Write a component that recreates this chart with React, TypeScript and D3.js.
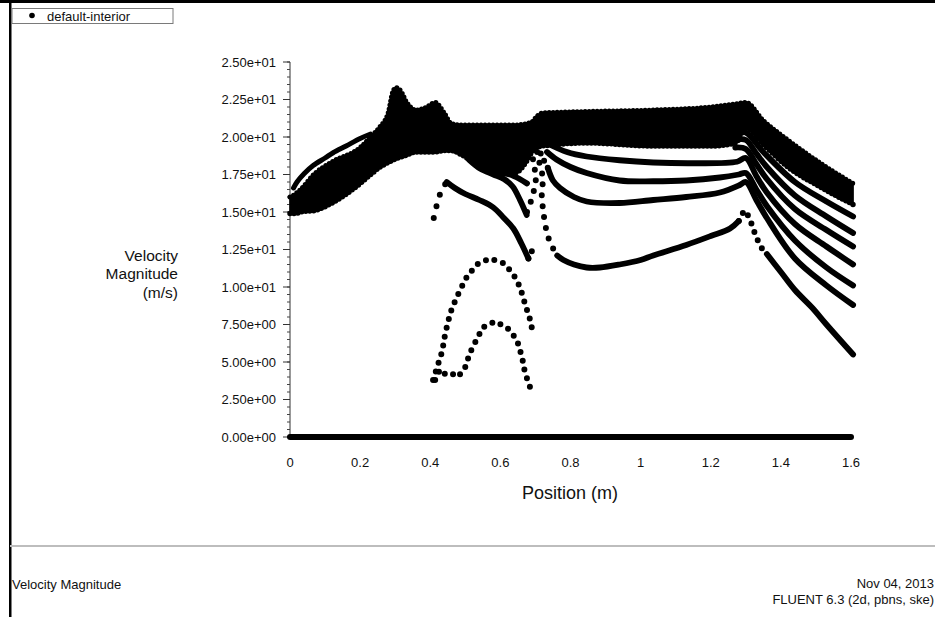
import React from 'react';
import * as d3 from 'd3';

type Pt = [number, number];

// ---- axis ticks ----
const yTickValues = [0, 2.5, 5, 7.5, 10, 12.5, 15, 17.5, 20, 22.5, 25];
const yTickLabels = ['0.00e+00', '2.50e+00', '5.00e+00', '7.50e+00', '1.00e+01', '1.25e+01', '1.50e+01', '1.75e+01', '2.00e+01', '2.25e+01', '2.50e+01'];
const xTickValues = [0, 0.2, 0.4, 0.6, 0.8, 1.0, 1.2, 1.4, 1.6];
const xTickLabels = ['0', '0.2', '0.4', '0.6', '0.8', '1', '1.2', '1.4', '1.6'];

// ---- dense band of points (upper / lower envelope) ----
const bandPos = [0, 0.015, 0.03, 0.07, 0.12, 0.2, 0.23, 0.257, 0.28, 0.293, 0.302, 0.315, 0.333, 0.36, 0.39, 0.414, 0.44, 0.46, 0.49, 0.54, 0.6, 0.64, 0.675, 0.69, 0.705, 0.72, 0.85, 1.036, 1.2, 1.27, 1.3, 1.35, 1.42, 1.51, 1.606];
const bandTop = [16.0, 16.2, 16.5, 17.55, 18.35, 19.3, 20.0, 20.7, 21.6, 23.0, 23.3, 23.1, 22.3, 21.8, 22.0, 22.3, 21.6, 20.9, 20.8, 20.8, 20.8, 20.8, 20.9, 21.0, 21.4, 21.6, 21.7, 21.8, 22.0, 22.2, 22.3, 21.1, 19.8, 18.3, 16.9];
const bandBottom = [14.9, 14.9, 15.0, 15.1, 15.6, 16.9, 17.5, 18.0, 18.3, 18.45, 18.55, 18.65, 18.8, 19.0, 19.0, 19.0, 19.1, 19.1, 18.8, 18.1, 17.7, 17.6, 18.4, 19.0, 19.3, 19.4, 19.6, 19.4, 19.4, 19.6, 20.6, 19.5, 18.0, 16.7, 15.5];

// ---- individual point chains (position m, velocity m/s) ----
const armUpper: Pt[] = [[0.01, 16.6], [0.02, 17.0], [0.04, 17.55], [0.066, 18.1], [0.1, 18.6], [0.123, 18.95], [0.16, 19.4], [0.2, 19.9], [0.23, 20.2]];

const curveAStart: Pt[] = [[0.41, 14.6], [0.42, 15.6], [0.432, 16.5], [0.447, 17.0]];
const curveA: Pt[] = [[0.447, 17.0], [0.47, 16.6], [0.5, 16.2], [0.54, 15.8], [0.58, 15.3], [0.61, 14.6], [0.637, 13.9], [0.66, 12.9], [0.68, 11.9]];
const curveAEnd: Pt[] = [[0.68, 11.9], [0.69, 12.4]];
const curveB: Pt[] = [[0.51, 18.5], [0.542, 17.9], [0.58, 17.5], [0.61, 17.2], [0.635, 16.7], [0.656, 15.8], [0.675, 14.8]];
const curveBRise: Pt[] = [[0.676, 15.0], [0.693, 16.1], [0.704, 17.5], [0.693, 18.1], [0.693, 18.9]];
const curveC: Pt[] = [[0.6, 17.6], [0.627, 17.5], [0.655, 17.2], [0.676, 16.9]];

const line1: Pt[] = [[0.74, 19.5], [0.79, 19.0], [0.846, 18.7], [0.94, 18.45], [1.036, 18.3], [1.15, 18.25], [1.275, 18.35], [1.3, 18.6], [1.33, 17.4], [1.36, 16.3], [1.44, 14.2], [1.53, 12.7], [1.606, 11.5]];
const line2: Pt[] = [[0.733, 19.0], [0.76, 18.5], [0.8, 18.0], [0.846, 17.6], [0.94, 17.1], [1.036, 17.05], [1.13, 17.1], [1.226, 17.3], [1.28, 17.5], [1.3, 17.6], [1.33, 16.5], [1.36, 15.4], [1.44, 13.1], [1.53, 11.3], [1.606, 10.1]];
const line3Start: Pt[] = [[0.715, 18.9], [0.725, 18.4], [0.736, 17.9]];
const line3: Pt[] = [[0.736, 17.9], [0.75, 17.1], [0.77, 16.6], [0.81, 16.0], [0.846, 15.7], [0.94, 15.6], [1.036, 15.8], [1.13, 16.0], [1.226, 16.3], [1.283, 16.8], [1.3, 17.0], [1.33, 15.8], [1.36, 14.6], [1.44, 11.9], [1.53, 10.1], [1.606, 8.8]];
const line4Start: Pt[] = [[0.705, 19.0], [0.713, 18.1], [0.722, 17.3], [0.718, 16.1], [0.722, 15.0], [0.733, 13.5], [0.747, 12.7], [0.762, 12.1]];
const line4: Pt[] = [[0.762, 12.1], [0.78, 11.8], [0.81, 11.5], [0.846, 11.3], [0.884, 11.3], [0.94, 11.5], [1.0, 11.8], [1.036, 12.1], [1.13, 12.8], [1.2, 13.4], [1.255, 13.9], [1.28, 14.4]];
const line4Peak: Pt[] = [[1.28, 14.4], [1.29, 14.9], [1.3, 15.1], [1.315, 14.3], [1.33, 13.3], [1.345, 12.6], [1.36, 12.2]];
const line4Tail: Pt[] = [[1.36, 12.2], [1.4, 11.0], [1.44, 9.8], [1.49, 8.6], [1.53, 7.5], [1.606, 5.5]];
const line5: Pt[] = [[1.27, 19.3], [1.3, 19.2], [1.33, 18.2], [1.36, 17.2], [1.44, 15.2], [1.53, 13.8], [1.606, 12.7]];
const line6: Pt[] = [[1.27, 19.8], [1.3, 19.8], [1.33, 18.9], [1.36, 18.0], [1.44, 16.1], [1.53, 14.7], [1.606, 13.6]];
const line7: Pt[] = [[1.27, 20.3], [1.3, 20.3], [1.35, 19.0], [1.44, 17.0], [1.53, 15.7], [1.606, 14.7]];

const arch1: Pt[] = [[0.408, 3.8], [0.419, 4.6], [0.434, 5.7], [0.442, 6.8], [0.451, 7.7], [0.462, 8.6], [0.485, 9.8], [0.505, 10.7], [0.533, 11.5], [0.57, 11.9], [0.608, 11.6], [0.636, 10.9], [0.656, 10.0], [0.67, 8.9], [0.685, 7.8], [0.693, 6.9]];
const arch2: Pt[] = [[0.414, 3.8], [0.428, 4.5], [0.442, 4.2], [0.456, 4.3], [0.479, 4.0], [0.499, 4.6], [0.513, 5.6], [0.528, 6.3], [0.55, 7.3], [0.585, 7.7], [0.619, 7.3], [0.647, 6.5], [0.662, 5.3], [0.67, 4.3], [0.685, 3.3], [0.693, 3.1]];

const zeroPos = [0, 1.6];
const zeroVel = [0, 0];

const solidSeries = [curveA, curveB, curveC, line1, line2, line3, line4, line4Tail, line5, line6, line7];
const dottedSeries: { pts: Pt[]; gap: number }[] = [
  { pts: curveAStart, gap: 12 },
  { pts: curveAEnd, gap: 8 },
  { pts: curveBRise, gap: 11 },
  { pts: line3Start, gap: 8 },
  { pts: line4Start, gap: 11 },
  { pts: line4Peak, gap: 9 },
  { pts: arch1, gap: 9 },
  { pts: arch2, gap: 9 },
];

const FONT = "'Liberation Sans', Arial, sans-serif";

export default function App() {
  const x = d3.scaleLinear().domain([0, 1.6]).range([290, 851]);
  const y = d3.scaleLinear().domain([0, 25]).range([437, 62]);

  const smooth = d3.line<Pt>().x(d => x(d[0])).y(d => y(d[1])).curve(d3.curveCatmullRom.alpha(0.5));
  const straight = d3.line<Pt>().x(d => x(d[0])).y(d => y(d[1]));
  const band = d3.area<number>()
    .x((_, i) => x(bandPos[i]))
    .y0((_, i) => y(bandBottom[i]))
    .y1((_, i) => y(bandTop[i]))
    .curve(d3.curveMonotoneX);
  const edge = (vals: number[]) =>
    d3.line<number>().x((_, i) => x(bandPos[i])).y((_, i) => y(vals[i])).curve(d3.curveMonotoneX)(vals) || '';
  const zeroData: Pt[] = zeroPos.map((p, i) => [p, zeroVel[i]]);

  const minorTicks = d3.range(0, 25.001, 0.5);

  return (
    <svg width={935} height={617} style={{ position: 'absolute', left: 0, top: 0, background: '#fff' }} fontFamily={FONT}>
      <rect x={0} y={0} width={935} height={617} fill="#fff" />
      {/* frame */}
      <rect x={0} y={0} width={935} height={3} fill="#000" />
      <rect x={9} y={0} width={2.5} height={617} fill="#000" />
      <rect x={10} y={545} width={925} height={2} fill="#bdbdbd" />

      {/* legend */}
      <rect x={12} y={8.5} width={161} height={15} fill="#fff" stroke="#7a7a7a" strokeWidth={1} />
      <circle cx={32} cy={15.5} r={2.8} fill="#000" />
      <text x={47} y={20.5} fontSize={13} fill="#111">default-interior</text>

      {/* y axis */}
      <line x1={290} x2={290} y1={y(25)} y2={y(0)} stroke="#333" strokeWidth={1} />
      {minorTicks.map((t, i) => (
        <line key={'m' + i} x1={290} x2={287} y1={y(t)} y2={y(t)} stroke="#444" strokeWidth={1} />
      ))}
      {yTickValues.map((t, i) => (
        <g key={'y' + i}>
          <line x1={290} x2={283} y1={y(t)} y2={y(t)} stroke="#333" strokeWidth={1} />
          <text x={276} y={y(t) + 4.5} fontSize={13} textAnchor="end" fill="#111">{yTickLabels[i]}</text>
        </g>
      ))}
      {xTickValues.map((t, i) => (
        <text key={'x' + i} x={x(t)} y={467} fontSize={13} textAnchor="middle" fill="#111">{xTickLabels[i]}</text>
      ))}

      {/* axis titles */}
      <text x={178} y={261} fontSize={15.5} textAnchor="end" fill="#111">Velocity</text>
      <text x={178} y={279} fontSize={15.5} textAnchor="end" fill="#111">Magnitude</text>
      <text x={178} y={298} fontSize={15.5} textAnchor="end" fill="#111">(m/s)</text>
      <text x={570} y={499} fontSize={18} textAnchor="middle" fill="#111">Position (m)</text>

      {/* data */}
      <path d={band(bandPos) || ''} fill="#000" stroke="#000" strokeWidth={1.5} strokeLinejoin="round" />
      <path d={edge(bandTop)} fill="none" stroke="#000" strokeWidth={5} strokeLinecap="round" strokeDasharray="0 4" />
      <path d={edge(bandBottom)} fill="none" stroke="#000" strokeWidth={5.5} strokeLinecap="round" strokeDasharray="0 4" />
      <path d={smooth(armUpper) || ''} fill="none" stroke="#000" strokeWidth={5} strokeLinecap="round" strokeLinejoin="round" />
      {solidSeries.map((s, i) => (
        <path key={'s' + i} d={smooth(s) || ''} fill="none" stroke="#000" strokeWidth={5.8} strokeLinecap="round" strokeLinejoin="round" />
      ))}
      {dottedSeries.map((s, i) => (
        <path key={'d' + i} d={straight(s.pts) || ''} fill="none" stroke="#000" strokeWidth={6} strokeLinecap="round" strokeDasharray={`0 ${s.gap}`} />
      ))}
      <path d={straight(zeroData) || ''} fill="none" stroke="#000" strokeWidth={6} strokeLinecap="round" />

      {/* footer */}
      <text x={12} y={589} fontSize={13} fill="#111">Velocity Magnitude</text>
      <text x={934} y={588} fontSize={13} textAnchor="end" fill="#111">Nov 04, 2013</text>
      <text x={934} y={604} fontSize={13} textAnchor="end" fill="#111">FLUENT 6.3 (2d, pbns, ske)</text>
    </svg>
  );
}
